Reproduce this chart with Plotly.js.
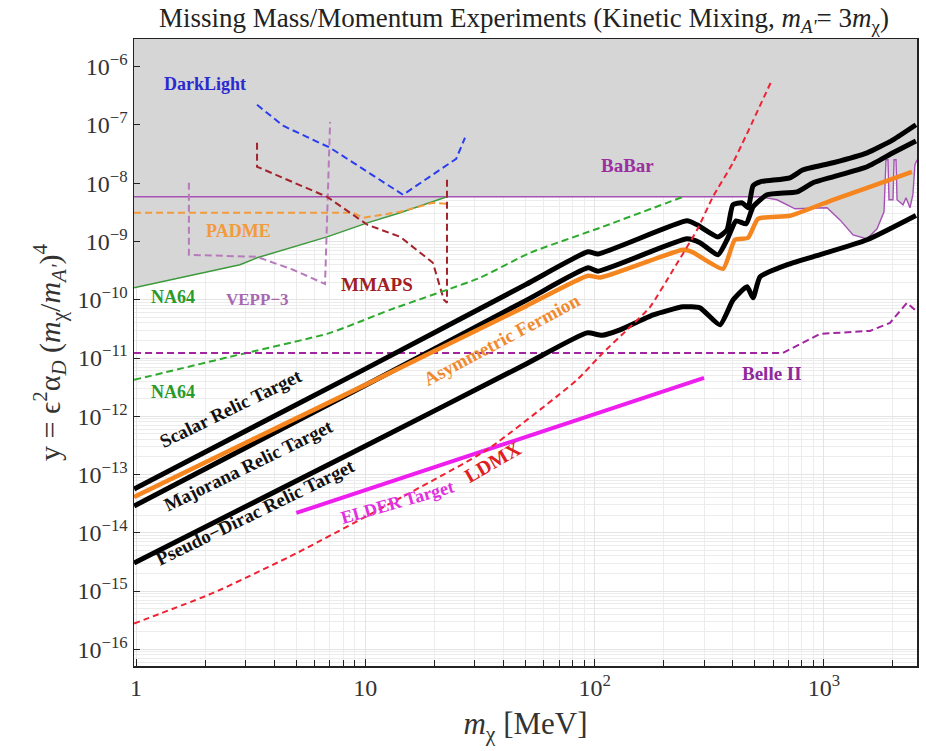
<!DOCTYPE html>
<html>
<head>
<meta charset="utf-8">
<script src="https://cdn.plot.ly/plotly-3.0.1.min.js"></script>
<style>html,body{margin:0;padding:0;background:#fff;}#chart{width:926px;height:751px;}</style>
</head>
<body>
<div id="chart"></div>
<script>
// ---- data (x: m_chi in MeV, y: yield parameter) ----
const scalarX = [0.98, 10, 50, 93.6, 103.5, 253, 280, 345, 378, 401, 440, 467, 491, 527, 711, 811, 1096, 1543, 2001, 2520];
const scalarY = [5.66e-14, 6.5e-12, 1.82e-10, 6.65e-10, 6.1e-10, 2.26e-9, 1.93e-9, 1.20e-9, 1.59e-9, 4.27e-9, 4.61e-9, 3.79e-9, 9.04e-9, 1.06e-8, 1.24e-8, 1.70e-8, 2.25e-8, 3.33e-8, 5.57e-8, 1.01e-7];

const majoranaX = [0.98, 10, 50, 93.6, 103.5, 253, 288, 345, 378, 414, 458, 491, 565, 764, 896, 1096, 1543, 2001, 2520];
const majoranaY = [2.89e-14, 3.40e-12, 9.66e-11, 3.53e-10, 3.1e-10, 1.11e-9, 9.5e-10, 5.9e-10, 1.07e-9, 2.26e-9, 2.01e-9, 3.94e-9, 6.34e-9, 7.13e-9, 1.02e-8, 1.29e-8, 1.92e-8, 3.33e-8, 5.3e-8];

const asymX = [0.98, 10, 50, 93.6, 105.6, 243, 266, 363, 409, 467, 516, 711, 1096, 1543, 2421];
const asymY = [4.13e-14, 3.46e-12, 7.7e-11, 2.58e-10, 2.4e-10, 7.2e-10, 6.65e-10, 3.40e-10, 1.07e-9, 1.16e-9, 2.45e-9, 2.76e-9, 5.2e-9, 8.36e-9, 1.57e-8];

const pseudoX = [0.98, 10, 50, 92.7, 107.7, 129, 180, 243, 288, 352, 402, 462, 491, 527, 711, 896, 1543, 2520];
const pseudoY = [3.03e-15, 3.08e-13, 7.83e-12, 2.70e-11, 2.45e-11, 3.04e-11, 5.5e-11, 7.55e-11, 7.26e-11, 3.71e-11, 9.97e-11, 1.67e-10, 1.08e-10, 2.48e-10, 4.14e-10, 5.46e-10, 1.07e-9, 2.8e-9];

const ldmxX = [0.98, 2.17, 5.04, 13.7, 33.9, 83.8, 108.8, 138.5, 174.6, 220, 280, 328, 401, 594];
const ldmxY = [2.77e-16, 9.27e-16, 4.51e-15, 3.66e-14, 2.65e-13, 4.22e-12, 1.23e-11, 3.04e-11, 7.55e-11, 3.27e-10, 1.59e-9, 5.85e-9, 2.24e-8, 5.98e-7];

const elderX = [5, 300];
const elderY = [2.19e-14, 4.56e-12];

const belleX = [0.98, 663, 962, 1589, 1942, 2303, 2550];
const belleY = [1.22e-11, 1.22e-11, 2.6e-11, 2.92e-11, 4.01e-11, 8.85e-11, 6.2e-11];

const na64X = [0.98, 2.84, 3.37, 6.81, 10.2, 14.2, 22.7];
const na64Y = [1.60e-10, 3.98e-10, 5.25e-10, 1.20e-9, 2.09e-9, 3.11e-9, 5.85e-9];

const na64ProjX = [0.98, 2.57, 7.02, 12.8, 22.7, 31.6, 52.3, 105.6, 243];
const na64ProjY = [4.22e-12, 1.05e-11, 2.70e-11, 6.71e-11, 1.48e-10, 2.38e-10, 6.40e-10, 1.72e-9, 5.85e-9];

const babarX = [0.98, 527, 624, 748, 1032, 1175, 1340, 1543, 1705, 1829, 1866, 1903, 1922, 2001, 2023, 2063, 2084, 2214, 2281, 2373, 2444, 2494, 2550];
const babarY = [5.85e-9, 5.85e-9, 5.2e-9, 3.64e-9, 3.79e-9, 2.35e-9, 1.30e-9, 1.11e-9, 1.65e-9, 3.24e-9, 2.53e-8, 2.53e-8, 5.2e-9, 5.2e-9, 2.53e-8, 2.53e-8, 5.2e-9, 4.27e-9, 5.62e-9, 3.79e-9, 6.34e-9, 2.07e-8, 2.53e-8];

const padmeX = [0.98, 8.84, 9.77, 14.2, 19.7, 22.7];
const padmeY = [3.11e-9, 3.11e-9, 2.55e-9, 3.24e-9, 4.61e-9, 4.43e-9];

const veppX = [1.70, 1.70, 3.37, 4.84, 6.67, 7.02];
const veppY = [1.02e-8, 5.9e-10, 5.46e-10, 3.27e-10, 1.87e-10, 1.13e-7];

const mmapsX = [3.37, 3.37, 6.81, 10.2, 14.2, 19.7, 22.0, 22.7, 22.7];
const mmapsY = [4.96e-8, 1.92e-8, 5.85e-9, 1.94e-9, 1.20e-9, 4.31e-10, 9.97e-11, 8.85e-11, 1.15e-8];

const darklightX = [3.37, 4.38, 7.02, 14.6, 24.9, 27.2];
const darklightY = [2.22e-7, 9.7e-8, 4.06e-8, 6.34e-9, 2.63e-8, 6.04e-8];

const ceilX = [0.9, 2700];
const ceilY = [1e-5, 1e-5];

const xTickVals = [1, 10, 100, 1000];
const xTickText = ['1', '10', '10<sup>2</sup>', '10<sup>3</sup>'];
const yTickVals = [1e-16, 1e-15, 1e-14, 1e-13, 1e-12, 1e-11, 1e-10, 1e-9, 1e-8, 1e-7, 1e-6];
const yTickText = ['10<sup>−16</sup>', '10<sup>−15</sup>', '10<sup>−14</sup>', '10<sup>−13</sup>', '10<sup>−12</sup>', '10<sup>−11</sup>', '10<sup>−10</sup>', '10<sup>−9</sup>', '10<sup>−8</sup>', '10<sup>−7</sup>', '10<sup>−6</sup>'];

// excluded-region boundary: NA64 below its crossing with BaBar, BaBar above
const cut = na64X[na64X.length - 1];
const envX = na64X.concat(babarX.filter(v => v > cut));
const envY = na64Y.concat(babarY.filter((v, i) => babarX[i] > cut));

const serif = 'Liberation Serif';
function ln(color, width, dash, shape) {
  return {color: color, width: width, dash: dash || 'solid', shape: shape || 'linear', smoothing: 0.5};
}
const traces = [
  {x: ceilX, y: ceilY, mode: 'lines', line: {width: 0, color: 'rgba(0,0,0,0)'}, hoverinfo: 'skip'},
  {x: envX, y: envY, mode: 'lines', fill: 'tonexty', fillcolor: '#d6d6d6', line: {width: 0, color: 'rgba(0,0,0,0)'}, hoverinfo: 'skip'},
  {x: babarX, y: babarY, mode: 'lines', line: ln('#a652b4', 1.4)},
  {x: na64X, y: na64Y, mode: 'lines', line: ln('#3c9a3c', 1.5)},
  {x: padmeX, y: padmeY, mode: 'lines', line: ln('#f39a3a', 2, '7px,4px')},
  {x: veppX, y: veppY, mode: 'lines', line: ln('#b77bbb', 2, '7px,4px')},
  {x: mmapsX, y: mmapsY, mode: 'lines', line: ln('#a3232b', 2, '7px,4px')},
  {x: darklightX, y: darklightY, mode: 'lines', line: ln('#2a3cf0', 2, '7px,4px')},
  {x: na64ProjX, y: na64ProjY, mode: 'lines', line: ln('#2eaa2e', 2, '7px,4px', 'spline')},
  {x: belleX, y: belleY, mode: 'lines', line: ln('#a0259f', 2, '7px,4px')},
  {x: elderX, y: elderY, mode: 'lines', line: ln('#ee1fee', 4)},
  {x: pseudoX, y: pseudoY, mode: 'lines', line: ln('#000000', 5, 'solid', 'spline')},
  {x: majoranaX, y: majoranaY, mode: 'lines', line: ln('#000000', 5, 'solid', 'spline')},
  {x: scalarX, y: scalarY, mode: 'lines', line: ln('#000000', 5, 'solid', 'spline')},
  {x: asymX, y: asymY, mode: 'lines', line: ln('#f5861f', 4.5, 'solid', 'spline')},
  {x: ldmxX, y: ldmxY, mode: 'lines', line: ln('#ee2233', 2, '6px,4px', 'spline')}
];

function lab(text, x, y, color, angle, size) {
  return {text: '<b>' + text + '</b>', x: x, y: y, xref: 'paper', yref: 'paper', showarrow: false,
          textangle: angle || 0, font: {family: serif, size: size || 16, color: color}, xanchor: 'center', yanchor: 'middle'};
}
const annotations = [
  lab('DarkLight', 0.0907, 0.928, '#2a2ad0', 0, 18),
  lab('BaBar', 0.630, 0.799, '#9a2fa0', 0, 19),
  lab('PADME', 0.133, 0.694, '#f39a3a', 0, 18),
  lab('NA64', 0.0498, 0.5885, '#2a9a2a', 0, 18),
  lab('NA64', 0.0498, 0.437, '#2a9a2a', 0, 18),
  lab('VEPP−3', 0.158, 0.585, '#a868b0', 0, 17),
  lab('MMAPS', 0.310, 0.609, '#a02025', 0, 19),
  lab('Belle II', 0.815, 0.466, '#8e2a9c', 0, 19),
  lab('Scalar Relic Target', 0.123, 0.411, '#111111', -26, 19),
  lab('Majorana Relic Target', 0.146, 0.319, '#111111', -26, 19),
  lab('Pseudo−Dirac Relic Target', 0.154, 0.2456, '#111111', -26, 19),
  lab('Asymmetric Fermion', 0.470, 0.520, '#f08a30', -28, 19),
  lab('ELDER Target', 0.337, 0.2616, '#e030e0', -16, 18),
  lab('LDMX', 0.458, 0.325, '#e02020', -30, 20)
];

const layout = {
  width: 926, height: 751,
  margin: {l: 134, r: 9, t: 39, b: 85},
  paper_bgcolor: '#ffffff', plot_bgcolor: '#ffffff',
  showlegend: false,
  title: {text: 'Missing Mass/Momentum Experiments (Kinetic Mixing, <i>m</i><sub><i>A\'</i></sub>= 3<i>m</i><sub>χ</sub>)',
          font: {family: serif, size: 27, color: '#222222'}, x: 0.498, xref: 'paper', xanchor: 'center',
          y: 0.976, yref: 'container', yanchor: 'middle'},
  xaxis: {
    type: 'log', range: [-0.009, 3.406], tickmode: 'array', tickvals: xTickVals, ticktext: xTickText,
    ticks: 'inside', ticklen: 7, tickwidth: 1, tickcolor: '#222',
    showline: true, linecolor: '#222', linewidth: 1.5, mirror: true,
    showgrid: true, gridcolor: '#e4e4e4', gridwidth: 1, zeroline: false,
    minor: {dtick: 'D1', ticks: 'inside', ticklen: 6, tickcolor: '#222', showgrid: true, gridcolor: '#ececec', gridwidth: 1},
    tickfont: {family: serif, size: 24, color: '#333'},
    title: {text: '<i>m</i><sub>χ</sub> [MeV]', font: {family: serif, size: 31, color: '#333'}, standoff: 12}
  },
  yaxis: {
    type: 'log', range: [-16.287, -5.524], tickmode: 'array', tickvals: yTickVals, ticktext: yTickText,
    ticks: 'inside', ticklen: 6, tickwidth: 1, tickcolor: '#222',
    showline: true, linecolor: '#222', linewidth: 1.5, mirror: true,
    showgrid: true, gridcolor: '#e4e4e4', gridwidth: 1, zeroline: false,
    minor: {dtick: 'D1', ticks: '', showgrid: true, gridcolor: '#ececec', gridwidth: 1},
    tickfont: {family: serif, size: 24, color: '#333'},
    title: {text: 'y = ϵ<sup>2</sup>α<sub><i>D</i></sub> (<i>m</i><sub>χ</sub>/<i>m</i><sub><i>A\'</i></sub>)<sup>4</sup>',
            font: {family: serif, size: 30, color: '#333'}, standoff: 8}
  },
  annotations: annotations
};

Plotly.newPlot('chart', traces, layout, {staticPlot: true, displayModeBar: false});
</script>
</body>
</html>
